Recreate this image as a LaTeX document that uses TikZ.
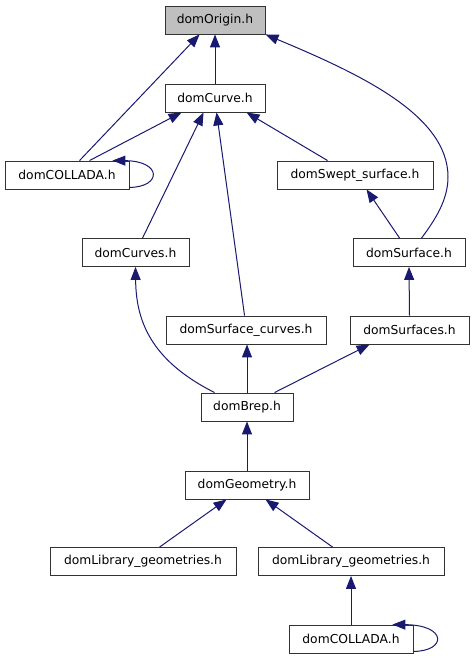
\documentclass[tikz,border=0pt]{standalone}
\usepackage{fontspec}
\setmainfont{DejaVu Sans}
\usetikzlibrary{arrows.meta,calc}
\definecolor{edgeblue}{HTML}{191970}
\definecolor{boxgray}{HTML}{BFBFBF}
\tikzset{
  box/.style={draw=black!80, line width=0.9bp, fill=white, minimum height=28bp, inner sep=0pt,
    font=\fontsize{12.3bp}{14bp}\selectfont},
  edge/.style={draw=edgeblue, line width=1bp, -{Triangle[length=13bp,width=10bp]}},
}
\begin{document}
\begin{tikzpicture}[x=1bp,y=-1bp]
\useasboundingbox (0,0) rectangle (473,659);
% nodes
\node[box, fill=boxgray, minimum width=100bp] (origin) at (215,20) {domOrigin.h};
\node[box, minimum width=100bp] (curve) at (215,98) {domCurve.h};
\node[box, minimum width=124bp] (collada1) at (67,175) {domCOLLADA.h};
\node[box, minimum width=156bp] (swept) at (355,175) {domSwept\_surface.h};
\node[box, minimum width=107bp] (curves) at (135.5,252.5) {domCurves.h};
\node[box, minimum width=112bp] (surface) at (409,252.5) {domSurface.h};
\node[box, minimum width=160bp] (surfcurves) at (246,330) {domSurface\_curves.h};
\node[box, minimum width=119bp] (surfaces) at (409.5,330) {domSurfaces.h};
\node[box, minimum width=92bp] (brep) at (247,407) {domBrep.h};
\node[box, minimum width=124bp] (geometry) at (247,485) {domGeometry.h};
\node[box, minimum width=186bp] (libL) at (143,561.5) {domLibrary\_geometries.h};
\node[box, minimum width=186bp] (libR) at (351,561.5) {domLibrary\_geometries.h};
\node[box, minimum width=124bp] (collada2) at (351,639) {domCOLLADA.h};
% edges
\draw[edge] (curve.north) -- (origin.south);
\draw[edge] ($(collada1.north west)+(75,0)$) -- ($(origin.south west)+(35,0)$);
\draw[edge] ($(collada1.north west)+(85,0)$) -- ($(curve.south west)+(17,0)$);
\draw[edge] ($(curves.north west)+(61,0)$) -- ($(curve.south west)+(39,0)$);
\draw[edge] ($(surfcurves.north west)+(79,0)$) -- ($(curve.south west)+(52,0)$);
\draw[edge] ($(swept.north west)+(51,0)$) -- ($(curve.south west)+(82,0)$);
\draw[edge] ($(surface.north west)+(47,0)$) -- ($(swept.south west)+(90,0)$);
\draw[edge] ($(surface.north west)+(69,0)$) .. controls (435,220) and (448,200) .. (448,177)
  .. controls (448,115) and (360,74) .. (origin.south east);
\draw[edge] (surfaces.north) -- (surface.south);
\draw[edge] ($(brep.north west)+(14,0)$) .. controls (150,360) and (136,320) .. (curves.south);
\draw[edge] (brep.north) -- (surfcurves.south -| brep.north);
\draw[edge] ($(brep.north west)+(74,0)$) -- ($(surfaces.south west)+(20,0)$);
\draw[edge] (geometry.north) -- (brep.south);
\draw[edge] ($(libL.north west)+(110,0)$) -- ($(geometry.south west)+(42,0)$);
\draw[edge] ($(libR.north west)+(75,0)$) -- ($(geometry.south west)+(81,0)$);
\draw[edge] (collada2.north) -- (libR.south);
% self loops
\draw[edge] ($(collada1.south east)+(0,-2)$) .. controls (162,187) and (162,161) .. ($(collada1.north east)+(-17,0)$);
\draw[edge] ($(collada2.south east)+(0,-2)$) .. controls (447,651) and (447,625) .. ($(collada2.north east)+(-21,0)$);
\end{tikzpicture}
\end{document}
